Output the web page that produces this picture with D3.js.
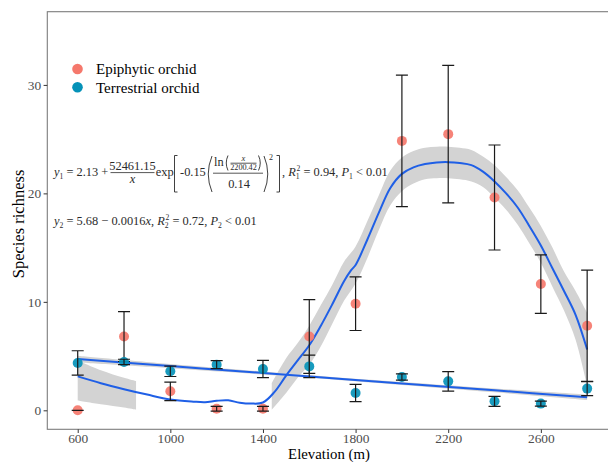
<!DOCTYPE html>
<html>
<head>
<meta charset="utf-8">
<script src="https://cdn.jsdelivr.net/npm/d3@7"></script>
<style>
  html, body { margin: 0; padding: 0; background: #fff; }
  svg { display: block; }
</style>
</head>
<body>
<div id="chart"></div>
<script>
/* Species richness of epiphytic / terrestrial orchids along an elevation gradient */

// ── Data ──────────────────────────────────────────────
const elevation = [600, 800, 1000, 1200, 1400, 1600, 1800, 2000, 2200, 2400, 2600, 2800];
const epiMean   = [0, 6.8, 1.75, 0.15, 0.15, 6.8, 9.83, 24.84, 25.46, 19.62, 11.64, 7.8];
const epiErr    = [0, 2.3, 0.85, 0.22, 0.22, 3.4, 2.47, 6.06, 6.34, 4.84, 2.7, 5.13];
const terMean   = [4.37, 4.46, 3.6, 4.21, 3.81, 4.05, 1.6, 3.07, 2.67, 0.83, 0.62, 2.0];
const terErr    = [1.12, 0.25, 0.48, 0.37, 0.79, 1.03, 0.8, 0.29, 0.9, 0.46, 0.23, 0.65];

// fitted curve for epiphytic orchids
const epiFitElev = [600, 700, 800, 900, 1000, 1100, 1150, 1200, 1250, 1300, 1350, 1400, 1450, 1500,
                    1550, 1600, 1650, 1700, 1750, 1780, 1800, 1850, 1900, 1950, 2000, 2050, 2100,
                    2150, 2200, 2250, 2300, 2350, 2400, 2450, 2500, 2550, 2600, 2650, 2700, 2750, 2800];
const epiFit     = [3.13, 2.5, 1.95, 1.45, 1.0, 0.8, 0.75, 0.88, 0.92, 0.7, 0.62, 0.72, 1.7, 3.2,
                    4.6, 6.0, 7.8, 9.8, 11.9, 12.9, 13.4, 15.7, 18.2, 20.5, 21.8, 22.4, 22.7,
                    22.85, 22.88, 22.8, 22.6, 22.0, 21.1, 20.0, 18.7, 17.0, 15.2, 13.1, 11.0, 8.8, 5.6];

// confidence band, two visible pieces (the rest falls below 0 and is dropped)
const bandAElev = [600, 700, 800, 852];
const bandALo   = [0.9, 0.55, 0.25, 0.05];
const bandAHi   = [4.6, 3.7, 3.0, 2.7];
const bandBElev = [1438, 1500, 1550, 1600, 1650, 1700, 1750, 1800, 1850, 1900, 1950, 2000, 2050,
                   2100, 2150, 2200, 2250, 2300, 2350, 2400, 2450, 2500, 2550, 2600, 2650, 2700, 2750, 2800];
const bandBLo   = [0.05, 1.6, 3.0, 4.2, 5.9, 8.0, 10.1, 11.7, 14.0, 16.6, 18.9, 20.2, 20.9,
                   21.3, 21.4, 21.4, 21.3, 21.1, 20.6, 19.6, 18.5, 17.1, 15.4, 13.6, 11.4, 9.2, 6.5, 2.2];
const bandBHi   = [2.5, 4.8, 6.2, 7.8, 9.7, 11.6, 13.7, 15.1, 17.4, 19.8, 22.1, 23.3, 23.9,
                   24.2, 24.3, 24.3, 24.2, 24.0, 23.4, 22.6, 21.5, 20.3, 18.7, 17.0, 15.0, 12.8, 11.0, 9.0];

// linear fit for terrestrial orchids
const terFitElev = [600, 1000, 1400, 1700, 2000, 2400, 2800];
const terFit     = [4.72, 4.08, 3.44, 2.96, 2.48, 1.84, 1.2];
const terFitLo   = [4.4, 3.88, 3.3, 2.84, 2.34, 1.66, 0.95];
const terFitHi   = [5.04, 4.28, 3.58, 3.08, 2.62, 2.02, 1.45];

const xTicks = [600, 1000, 1400, 1800, 2200, 2600];
const yTicks = [0, 10, 20, 30];
const seriesNames = ['Epiphytic orchid', 'Terrestrial orchid'];

// ── Layout ────────────────────────────────────────────
const W = 608, H = 462;
const P = { left: 47.3, right: 620, top: 11.7, bottom: 429.3 };
const FONT = '"Liberation Serif","Times New Roman",serif';
const RED  = '#f5786c';
const BLUE = '#0592b8';
const FIT  = '#1f5fe6';
const BAND = '#d3d3d3';

const svg = d3.select('#chart').append('svg')
  .attr('width', W).attr('height', H);

const x = d3.scaleLinear().domain([468.7, 2890]).range([P.left, 608]);
const y = d3.scaleLinear().domain([-1.75, 36.75]).range([P.bottom, P.top]);

// panel border (right edge falls outside the picture)
svg.append('rect')
  .attr('x', P.left).attr('y', P.top)
  .attr('width', P.right - P.left).attr('height', P.bottom - P.top)
  .attr('fill', 'none').attr('stroke', '#7d7d7d').attr('stroke-width', 1.1);

// axes
const xAxis = svg.append('g')
  .attr('transform', `translate(0,${P.bottom})`)
  .call(d3.axisBottom(x).tickValues(xTicks).tickFormat(d3.format('d')).tickSize(3.7).tickPadding(0.5));
const yAxis = svg.append('g')
  .attr('transform', `translate(${P.left},0)`)
  .call(d3.axisLeft(y).tickValues(yTicks).tickFormat(d3.format('d')).tickSize(3.7).tickPadding(2.5));
[xAxis, yAxis].forEach(a => {
  a.select('.domain').remove();
  a.selectAll('.tick line').attr('stroke', '#333').attr('stroke-width', 1);
  a.selectAll('.tick text')
    .attr('font-family', FONT).attr('font-size', 13.4).attr('fill', '#4d4d4d');
});
xAxis.selectAll('.tick text').attr('dy', '0.68em');

svg.append('text')
  .attr('x', 329).attr('y', 458.6)
  .attr('text-anchor', 'middle')
  .attr('font-family', FONT).attr('font-size', 14.8).attr('fill', '#000')
  .text('Elevation (m)');
svg.append('text')
  .attr('transform', 'translate(24,224) rotate(-90)')
  .attr('text-anchor', 'middle')
  .attr('font-family', FONT).attr('font-size', 16.5).attr('fill', '#000')
  .text('Species richness');

// ── Plot layer ───────────────────────────────────────
const plot = svg.append('g');
const curve = d3.curveCatmullRom.alpha(0.5);

const area = d3.area().curve(curve)
  .x(d => x(d[0])).y0(d => y(d[1])).y1(d => y(d[2]));
const line = d3.line().curve(curve)
  .x(d => x(d[0])).y(d => y(d[1]));

plot.append('path').datum(d3.zip(bandAElev, bandALo, bandAHi))
  .attr('d', area).attr('fill', BAND);
plot.append('path').datum(d3.zip(bandBElev, bandBLo, bandBHi))
  .attr('d', area).attr('fill', BAND);
plot.append('path').datum(d3.zip(terFitElev, terFitLo, terFitHi))
  .attr('d', area).attr('fill', BAND);

plot.append('path').datum(d3.zip(epiFitElev, epiFit))
  .attr('d', line).attr('fill', 'none')
  .attr('stroke', FIT).attr('stroke-width', 2);
plot.append('path').datum(d3.zip(terFitElev, terFit))
  .attr('d', line).attr('fill', 'none')
  .attr('stroke', FIT).attr('stroke-width', 2);

function drawSeries(means, errs, color) {
  const rows = d3.zip(elevation, means, errs);
  plot.append('g').selectAll('circle')
    .data(rows).join('circle')
    .attr('cx', d => x(d[0])).attr('cy', d => y(d[1]))
    .attr('r', 5).attr('fill', color).attr('fill-opacity', 0.92);
  const eb = plot.append('g')
    .attr('stroke', '#1a1a1a').attr('stroke-width', 1.2).attr('fill', 'none');
  eb.selectAll('path')
    .data(rows).join('path')
    .attr('d', d => {
      const cx = x(d[0]), lo = y(d[1] - d[2]), hi = y(d[1] + d[2]);
      return `M${cx - 6},${hi}H${cx + 6}M${cx},${hi}V${lo}M${cx - 6},${lo}H${cx + 6}`;
    });
}
drawSeries(epiMean, epiErr, RED);
drawSeries(terMean, terErr, BLUE);

// ── Legend ───────────────────────────────────────────
const legend = svg.append('g');
[RED, BLUE].forEach((c, i) => {
  legend.append('circle')
    .attr('cx', 77.5).attr('cy', 69 + i * 18.3).attr('r', 5.3).attr('fill', c);
  legend.append('text')
    .attr('x', 96).attr('y', 74.3 + i * 18.3)
    .attr('font-family', FONT).attr('font-size', 15).attr('fill', '#000')
    .text(seriesNames[i]);
});

// ── Equations ────────────────────────────────────────
const FS = 12.4;
const eq = svg.append('g')
  .attr('font-family', FONT).attr('fill', '#2b2b2b').attr('font-size', FS);

// sequential run of math pieces; returns end x
function mathRun(g, x0, base, parts, fs = FS) {
  let cx = x0;
  parts.forEach(p => {
    if (typeof p === 'string') p = { t: p };
    const t = g.append('text').attr('x', cx).attr('y', base)
      .attr('font-size', fs).attr('xml:space', 'preserve')
      .attr('font-style', p.it ? 'italic' : null).text(p.t);
    cx += t.node().getComputedTextLength();
    let adv = 0;
    if (p.sub) {
      const s = g.append('text').attr('x', cx).attr('y', base + 2.5)
        .attr('font-size', fs * 0.62).text(p.sub);
      adv = s.node().getComputedTextLength();
    }
    if (p.sup) {
      const s = g.append('text').attr('x', cx + (p.sub ? 0.8 : 0)).attr('y', base - 5)
        .attr('font-size', fs * 0.62).text(p.sup);
      adv = Math.max(adv, s.node().getComputedTextLength() + 0.8);
    }
    cx += adv;
  });
  return cx;
}
function centered(g, cx, base, txt, fs, italic) {
  g.append('text').attr('x', cx).attr('y', base)
    .attr('text-anchor', 'middle').attr('font-size', fs)
    .attr('font-style', italic ? 'italic' : null).text(txt);
}
function hbar(g, x1, x2, yy) {
  g.append('line').attr('x1', x1).attr('x2', x2).attr('y1', yy).attr('y2', yy)
    .attr('stroke', '#2b2b2b').attr('stroke-width', 0.8);
}
function stroke(g, d) {
  g.append('path').attr('d', d).attr('fill', 'none')
    .attr('stroke', '#2b2b2b').attr('stroke-width', 0.9);
}

// line 1
const B1 = 176;
mathRun(eq, 54, B1, [{ t: 'y', it: true, sub: '1' }, ' = 2.13 +']);
centered(eq, 132.5, 169.5, '52461.15', FS);
hbar(eq, 110.5, 154.5, 172.6);
centered(eq, 132.5, 183, 'x', FS, true);
mathRun(eq, 155.8, B1, ['exp']);
stroke(eq, 'M177.5,155.5H174.5V192H177.5');
mathRun(eq, 180, B1, ['-0.15']);
stroke(eq, 'M212,156Q204.5,174 212,192');
mathRun(eq, 214, 166, ['ln']);
stroke(eq, 'M228,155.5Q224.5,163 228,170.5');
centered(eq, 243.5, 160.5, 'x', 8.5, true);
hbar(eq, 230.5, 256.5, 163.2);
centered(eq, 243.5, 170, '2200.42', 8.2);
stroke(eq, 'M258.5,155.5Q262,163 258.5,170.5');
hbar(eq, 213, 263, 173.2);
centered(eq, 239, 187.5, '0.14', FS);
stroke(eq, 'M264,156Q271.5,174 264,192');
eq.append('text').attr('x', 269).attr('y', 159.5).attr('font-size', 8).text('2');
stroke(eq, 'M276.5,155.5H279.5V192H276.5');
mathRun(eq, 282, B1, [', ', { t: 'R', it: true, sub: '1', sup: '2' }, ' = 0.94, ',
  { t: 'P', it: true, sub: '1' }, ' < 0.01']);

// line 2
mathRun(eq, 54, 225, [{ t: 'y', it: true, sub: '2' }, ' = 5.68 − 0.0016', { t: 'x', it: true },
  ', ', { t: 'R', it: true, sub: '2', sup: '2' }, ' = 0.72, ', { t: 'P', it: true, sub: '2' }, ' < 0.01']);
</script>
</body>
</html>
